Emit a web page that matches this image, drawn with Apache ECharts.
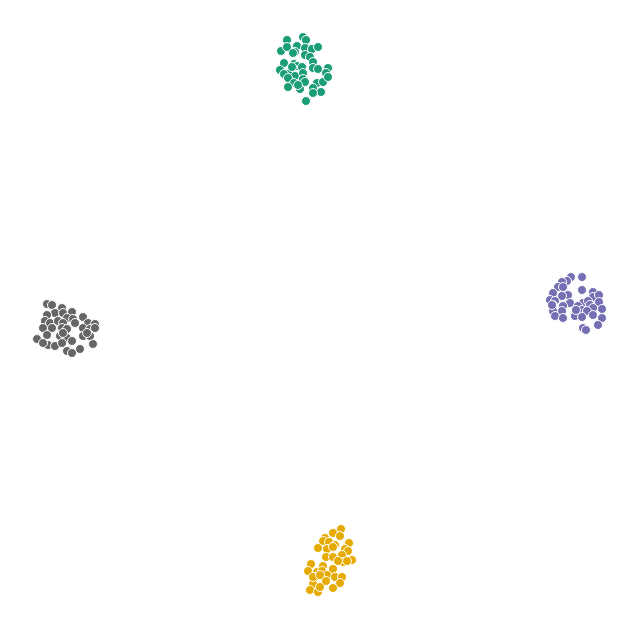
<!DOCTYPE html>
<html>
<head>
<meta charset="utf-8">
<script src="https://cdn.jsdelivr.net/npm/echarts@6/dist/echarts.min.js"></script>
<style>html,body{margin:0;padding:0;background:#fff;}#chart{width:640px;height:636px;}</style>
</head>
<body>
<div id="chart"></div>
<script>
const groupNames = ['A', 'B', 'C', 'D'];
const groupA = [[-3.3,27.8],[-1.7,28.1],[-1.4,27.8],[-3.9,26.7],[-3.3,27.1],[-2.3,27.2],[-2.5,26.6],[-2.7,26.5],[-1.5,27.0],[-0.8,26.9],[-0.2,27.1],[-3.6,25.5],[-4.0,24.8],[-1.5,26.3],[-1.0,26.1],[-2.6,25.4],[-2.3,25.2],[-1.8,25.1],[-0.7,25.6],[-0.7,25.0],[-0.2,24.9],[0.8,25.0],[0.6,24.5],[-3.0,24.5],[-2.5,24.2],[-1.7,24.5],[-3.6,24.4],[-3.2,24.0],[-2.6,23.5],[-1.7,23.9],[-1.5,23.6],[-0.3,23.5],[0.3,23.6],[0.8,24.1],[-3.2,23.1],[-2.0,22.9],[-0.7,23.0],[0.1,22.6],[-0.7,22.5],[-1.4,21.7],[-2.2,23.3],[-2.8,25.1]];
const groupB = [[25.1,4.1],[26.2,4.1],[24.7,3.7],[24.2,3.6],[23.8,3.1],[24.3,3.1],[26.2,2.8],[27.3,2.6],[23.3,2.5],[24.8,2.3],[24.2,2.2],[27.3,2.1],[27.9,2.3],[23.0,1.8],[23.5,1.7],[25.0,1.5],[26.3,1.5],[26.8,1.7],[27.9,1.6],[23.3,1.3],[24.3,1.2],[25.8,1.2],[27.0,1.3],[27.3,1.0],[26.2,0.8],[26.7,0.7],[28.2,0.9],[23.3,0.7],[24.2,0.7],[23.5,0.2],[24.3,0.0],[25.5,0.2],[26.2,0.1],[27.3,0.3],[28.2,0.0],[27.8,-0.7],[26.3,-1.0],[26.6,-1.2],[25.6,0.8],[23.2,1.3]];
const groupC = [[-27.3,1.4],[-26.8,1.3],[-25.8,1.0],[-26.5,0.5],[-25.7,0.5],[-24.8,0.6],[-27.3,0.3],[-25.3,0.0],[-24.7,-0.1],[-23.7,0.1],[-27.5,-0.3],[-27.0,-0.5],[-26.2,-0.3],[-25.7,-0.5],[-24.5,-0.5],[-23.2,-0.5],[-22.5,-0.6],[-23.7,-1.0],[-27.7,-1.0],[-26.8,-1.0],[-25.8,-1.0],[-25.3,-1.1],[-23.0,-1.1],[-22.5,-1.0],[-28.3,-2.1],[-27.3,-1.7],[-26.0,-1.8],[-25.3,-2.0],[-23.7,-1.8],[-23.0,-1.8],[-23.3,-1.5],[-27.2,-2.7],[-26.5,-2.8],[-25.8,-2.5],[-24.8,-2.3],[-22.7,-2.6],[-25.3,-3.3],[-24.8,-3.5],[-24.0,-3.1],[-27.7,-2.5],[-25.7,-1.5]];
const groupD = [[2.1,-21.1],[1.3,-21.5],[2.0,-21.8],[0.5,-22.0],[0.3,-22.3],[0.9,-22.4],[1.5,-22.7],[2.9,-22.5],[-0.2,-23.0],[0.7,-23.1],[1.3,-22.9],[2.5,-23.1],[2.8,-23.3],[0.6,-23.9],[1.3,-23.9],[2.2,-23.7],[2.3,-24.4],[3.2,-24.2],[2.7,-24.3],[1.8,-24.3],[-0.9,-24.6],[0.3,-24.8],[1.3,-25.1],[-1.2,-25.3],[-0.3,-25.4],[0.2,-25.3],[0.7,-25.7],[-0.5,-25.9],[1.5,-25.9],[2.2,-25.9],[2.0,-26.5],[-0.7,-26.6],[0.6,-26.3],[1.3,-27.0],[-1.0,-27.2],[-0.2,-27.4],[0.0,-26.9],[-0.7,-25.9],[0.0,-25.7]];
const groupData = [groupA, groupB, groupC, groupD];
const colors = ['#1b9e77', '#7570b3', '#666666', '#e6ab02'];

const chart = echarts.init(document.getElementById('chart'));
chart.setOption({
  animation: false,
  backgroundColor: '#ffffff',
  grid: { left: 0, right: 0, top: 0, bottom: 0 },
  xAxis: { type: 'value', min: -32, max: 32, show: false },
  yAxis: { type: 'value', min: -31.8, max: 31.8, show: false },
  series: groupNames.map((n, i) => ({
    name: n,
    type: 'scatter',
    data: groupData[i],
    symbolSize: 9,
    itemStyle: { color: colors[i], borderColor: '#ffffff', borderWidth: 1, opacity: 1 }
  }))
});
</script>
</body>
</html>
